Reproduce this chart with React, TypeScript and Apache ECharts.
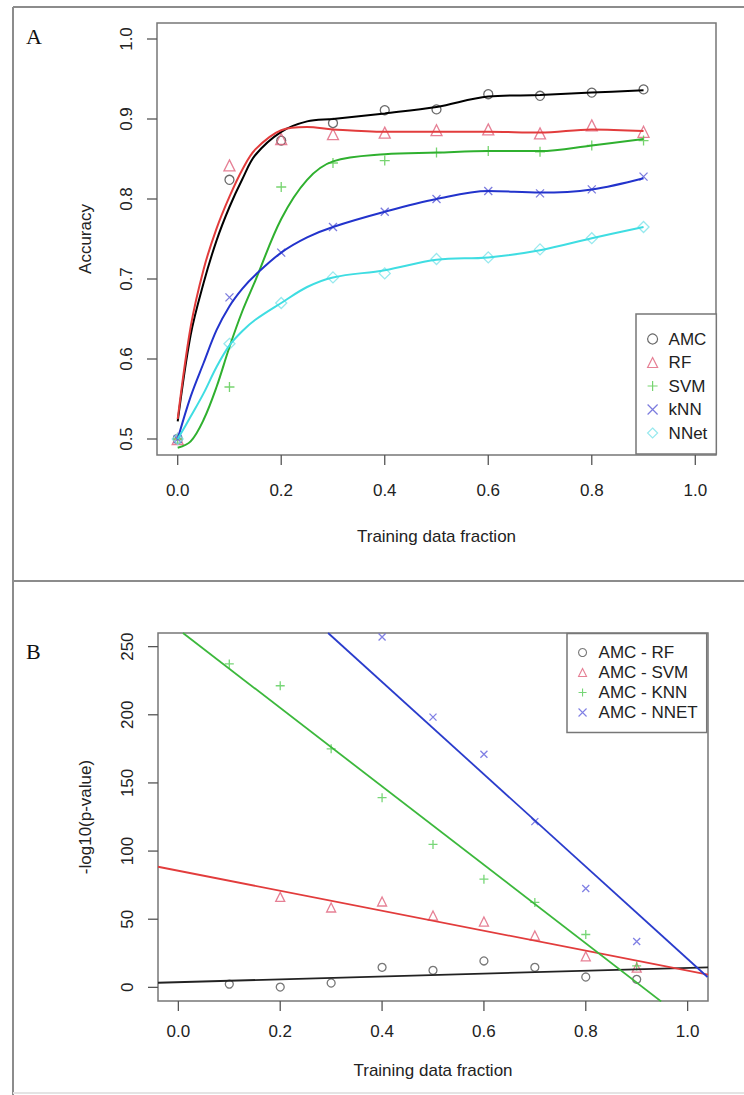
import React, { useEffect, useRef } from "react";
import * as echarts from "echarts";

// ---------- Panel A data ----------
const fractionsA = [0, 0.1, 0.2, 0.3, 0.4, 0.5, 0.6, 0.7, 0.8, 0.9];
const amcPts = [0.5, 0.824, 0.873, 0.895, 0.911, 0.912, 0.931, 0.929, 0.933, 0.937];
const rfPts = [0.5, 0.842, 0.875, 0.881, 0.883, 0.886, 0.887, 0.882, 0.892, 0.884];
const svmPts = [0.5, 0.565, 0.815, 0.845, 0.848, 0.858, 0.86, 0.859, 0.867, 0.873];
const knnPts = [0.5, 0.677, 0.733, 0.765, 0.784, 0.8, 0.81, 0.807, 0.812, 0.828];
const nnetPts = [0.5, 0.619, 0.67, 0.702, 0.707, 0.725, 0.727, 0.737, 0.751, 0.765];

// smoothed curves
const curveX = [0, 0.025, 0.05, 0.075, 0.1, 0.125, 0.15, 0.2, 0.25, 0.3, 0.4, 0.5, 0.6, 0.7, 0.8, 0.9];
const amcCurve = [0.522, 0.63, 0.695, 0.748, 0.79, 0.825, 0.855, 0.884, 0.897, 0.9, 0.907, 0.915, 0.928, 0.93, 0.933, 0.936];
const rfCurve = [0.525, 0.64, 0.712, 0.763, 0.803, 0.837, 0.862, 0.886, 0.89, 0.887, 0.884, 0.884, 0.884, 0.883, 0.887, 0.885];
const svmCurve = [0.489, 0.497, 0.524, 0.565, 0.615, 0.66, 0.698, 0.775, 0.824, 0.847, 0.856, 0.858, 0.86, 0.86, 0.867, 0.875];
const knnCurve = [0.5, 0.553, 0.595, 0.636, 0.666, 0.688, 0.705, 0.733, 0.752, 0.765, 0.784, 0.8, 0.81, 0.808, 0.812, 0.826];
const nnetCurve = [0.5, 0.528, 0.557, 0.59, 0.617, 0.635, 0.649, 0.67, 0.69, 0.702, 0.711, 0.724, 0.727, 0.736, 0.751, 0.765];

const xTicks = [0, 0.2, 0.4, 0.6, 0.8, 1.0];
const yTicksA = [0.5, 0.6, 0.7, 0.8, 0.9, 1.0];

// ---------- Panel B data ----------
const fractionsB = [0.1, 0.2, 0.3, 0.4, 0.5, 0.6, 0.7, 0.8, 0.9];
const rfDiff = [2.4, 0.2, 3.2, 14.7, 12.5, 19.4, 14.7, 7.6, 5.9];
const svmDiff = [null, 66.4, 58.6, 63.0, 52.7, 48.3, 38.0, 22.8, 14.5];
const knnDiff = [237.3, 221.3, 175.0, 139.2, 104.9, 79.4, 62.3, 38.8, 15.7];
const nnetDiff = [null, null, null, 257.1, 198.3, 171.1, 121.6, 72.6, 33.6];

// fitted regression lines, end points
const rfFit = [[-0.04, 3.4], [1.04, 14.7]];
const svmFit = [[-0.04, 88.5], [1.04, 9.3]];
const knnFit = [[0.009, 260], [0.948, -10.3]];
const nnetFit = [[0.294, 260], [1.039, 7.6]];

const yTicksB = [0, 50, 100, 150, 200, 250];

const FONT = "Liberation Sans, Arial, sans-serif";
const TXT = "#222";
const BOX = "#777";
const TICK = "#555";

const X_MIN = -0.04;
const X_MAX = 1.04;
const YA_MIN = 0.48;
const YA_MAX = 1.02;
const YB_MIN = -10;
const YB_MAX = 260;

const GRIDS = [
  { left: 157, top: 23, width: 559, height: 432 },
  { left: 158, top: 633, width: 550, height: 368 },
];

const PLUS = "path://M0,5L10,5M5,0L5,10";
const CROSS = "path://M0,0L10,10M10,0L0,10";

function pairs(xs: number[], ys: (number | null)[]) {
  const out: number[][] = [];
  xs.forEach((x, i) => {
    const y = ys[i];
    if (y !== null && y !== undefined) out.push([x, y]);
  });
  return out;
}

function scatter(name: string, grid: number, xs: number[], ys: (number | null)[], symbol: string, size: number, color: string) {
  return {
    name,
    type: "scatter",
    xAxisIndex: grid,
    yAxisIndex: grid,
    data: pairs(xs, ys),
    symbol,
    symbolSize: size,
    itemStyle: { color: "rgba(0,0,0,0)", borderColor: color, borderWidth: 1.3 },
    z: 2,
  };
}

function line(name: string, grid: number, data: number[][], color: string, smooth: boolean, width: number) {
  return {
    name,
    type: "line",
    xAxisIndex: grid,
    yAxisIndex: grid,
    data,
    showSymbol: false,
    symbol: "none",
    smooth: smooth ? 0.35 : false,
    lineStyle: { color, width },
    itemStyle: { color },
    z: 3,
    clip: true,
  };
}

// tick marks outside the plot box, drawn by a custom series through the axis scales
function tickSeries(grid: number, values: number[], edge: number, vertical: boolean) {
  return {
    name: "ticks-" + grid + (vertical ? "x" : "y"),
    type: "custom",
    coordinateSystem: "cartesian2d",
    xAxisIndex: grid,
    yAxisIndex: grid,
    clip: false,
    silent: true,
    z: 20,
    data: values.map((v) => (vertical ? [v, edge] : [edge, v])),
    renderItem: (params: any, api: any) => {
      const p = api.coord([api.value(0), api.value(1)]);
      const shape = vertical
        ? { x1: p[0], y1: p[1], x2: p[0], y2: p[1] + 10 }
        : { x1: p[0] - 10, y1: p[1], x2: p[0], y2: p[1] };
      return { type: "line", shape, style: { stroke: TICK, lineWidth: 1.3, fill: null } };
    },
  };
}

function xAxis(grid: number, labelMargin: number, nameGap: number) {
  return {
    type: "value",
    gridIndex: grid,
    position: "bottom",
    min: X_MIN,
    max: X_MAX,
    name: "Training data fraction",
    nameLocation: "middle",
    nameGap,
    nameTextStyle: { fontFamily: FONT, fontSize: 17, color: TXT },
    axisLine: { show: false, onZero: false },
    axisTick: { show: false },
    axisLabel: {
      customValues: xTicks,
      margin: labelMargin,
      fontFamily: FONT,
      fontSize: 17,
      color: TXT,
      formatter: (v: number) => v.toFixed(1),
    },
    splitLine: { show: false },
  };
}

function yAxis(grid: number, min: number, max: number, ticks: number[], name: string, nameGap: number, fmt: (v: number) => string) {
  return {
    type: "value",
    gridIndex: grid,
    position: "left",
    min,
    max,
    name,
    nameLocation: "middle",
    nameGap,
    nameTextStyle: { fontFamily: FONT, fontSize: 17, color: TXT },
    axisLine: { show: false, onZero: false },
    axisTick: { show: false },
    axisLabel: {
      customValues: ticks,
      rotate: 90,
      margin: 22,
      fontFamily: FONT,
      fontSize: 17,
      color: TXT,
      formatter: fmt,
    },
    splitLine: { show: false },
  };
}

const legendText = { fontFamily: FONT, fontSize: 17, color: TXT, lineHeight: 17 };

const option = {
  animation: false,
  backgroundColor: "#fff",
  textStyle: { fontFamily: FONT },
  grid: GRIDS.map((G) => ({
    left: G.left,
    top: G.top,
    width: G.width,
    height: G.height,
    show: true,
    borderColor: BOX,
    borderWidth: 1.5,
    backgroundColor: "transparent",
  })),
  xAxis: [xAxis(0, 27, 73), xAxis(1, 22, 61)],
  yAxis: [
    yAxis(0, YA_MIN, YA_MAX, yTicksA, "Accuracy", 63, (v: number) => v.toFixed(1)),
    yAxis(1, YB_MIN, YB_MAX, yTicksB, "-log10(p-value)", 64, (v: number) => String(v)),
  ],
  legend: [
    {
      data: ["AMC", "RF", "SVM", "kNN", "NNet"],
      orient: "vertical",
      left: 636,
      top: 314,
      padding: [16.5, 9, 12.5, 11],
      itemWidth: 10,
      itemHeight: 10,
      itemGap: 6.5,
      borderColor: BOX,
      borderWidth: 1.5,
      backgroundColor: "#fff",
      selectedMode: false,
      itemStyle: { borderWidth: 1.2 },
      textStyle: { ...legendText, padding: [0, 0, 0, 6] },
    },
    {
      data: ["AMC - RF", "AMC - SVM", "AMC - KNN", "AMC - NNET"],
      orient: "vertical",
      left: 567,
      top: 633.5,
      padding: [10.5, 9, 11.5, 11],
      itemWidth: 8,
      itemHeight: 8,
      itemGap: 3,
      borderColor: BOX,
      borderWidth: 1.5,
      backgroundColor: "#fff",
      selectedMode: false,
      itemStyle: { borderWidth: 1.1 },
      textStyle: { ...legendText, padding: [0, 0, 0, 7] },
    },
  ],
  series: [
    tickSeries(0, xTicks, YA_MIN, true),
    tickSeries(0, yTicksA, X_MIN, false),
    tickSeries(1, xTicks, YB_MIN, true),
    tickSeries(1, yTicksB, X_MIN, false),

    scatter("AMC", 0, fractionsA, amcPts, "circle", 9, "#444"),
    scatter("RF", 0, fractionsA, rfPts, "triangle", 11, "#e0607a"),
    scatter("SVM", 0, fractionsA, svmPts, PLUS, 10, "#55c94c"),
    scatter("kNN", 0, fractionsA, knnPts, CROSS, 8, "#5a5ad6"),
    scatter("NNet", 0, fractionsA, nnetPts, "diamond", 11, "#7de3ea"),
    line("AMC fit", 0, pairs(curveX, amcCurve), "#000", true, 2),
    line("RF fit", 0, pairs(curveX, rfCurve), "#e23c3c", true, 2),
    line("SVM fit", 0, pairs(curveX, svmCurve), "#2fb02f", true, 2),
    line("kNN fit", 0, pairs(curveX, knnCurve), "#2233cc", true, 2),
    line("NNet fit", 0, pairs(curveX, nnetCurve), "#3fdde2", true, 2),

    scatter("AMC - RF", 1, fractionsB, rfDiff, "circle", 8, "#555"),
    scatter("AMC - SVM", 1, fractionsB, svmDiff, "triangle", 9, "#e0607a"),
    scatter("AMC - KNN", 1, fractionsB, knnDiff, PLUS, 9, "#55cc55"),
    scatter("AMC - NNET", 1, fractionsB, nnetDiff, CROSS, 7, "#6060dd"),
    line("RF line", 1, rfFit, "#222", false, 1.8),
    line("SVM line", 1, svmFit, "#e23c3c", false, 1.8),
    line("KNN line", 1, knnFit, "#3cb83c", false, 1.8),
    line("NNET line", 1, nnetFit, "#2a3ccc", false, 1.8),
  ],
  graphic: [
    { type: "line", shape: { x1: 13, y1: 7, x2: 744, y2: 7 }, style: { stroke: "#8c8c8c", lineWidth: 2 } },
    { type: "line", shape: { x1: 13, y1: 7, x2: 13, y2: 1095 }, style: { stroke: "#8c8c8c", lineWidth: 2 } },
    { type: "line", shape: { x1: 13, y1: 581, x2: 744, y2: 581 }, style: { stroke: "#8c8c8c", lineWidth: 2 } },
    { type: "line", shape: { x1: 13, y1: 1093, x2: 744, y2: 1093 }, style: { stroke: "#e4e4e4", lineWidth: 2 } },
    {
      type: "text",
      left: 26,
      top: 25,
      style: { text: "A", fontFamily: "Liberation Serif, Times New Roman, serif", fontSize: 22, fill: "#111" },
    },
    {
      type: "text",
      left: 26,
      top: 640,
      style: { text: "B", fontFamily: "Liberation Serif, Times New Roman, serif", fontSize: 22, fill: "#111" },
    },
  ],
};

export default function App() {
  const ref = useRef<HTMLDivElement>(null);
  useEffect(() => {
    document.body.style.margin = "0";
    const chart = echarts.init(ref.current as HTMLDivElement, null, { renderer: "svg" });
    chart.setOption(option as any);
    return () => chart.dispose();
  }, []);
  return <div ref={ref} style={{ width: 744, height: 1095 }} />;
}
